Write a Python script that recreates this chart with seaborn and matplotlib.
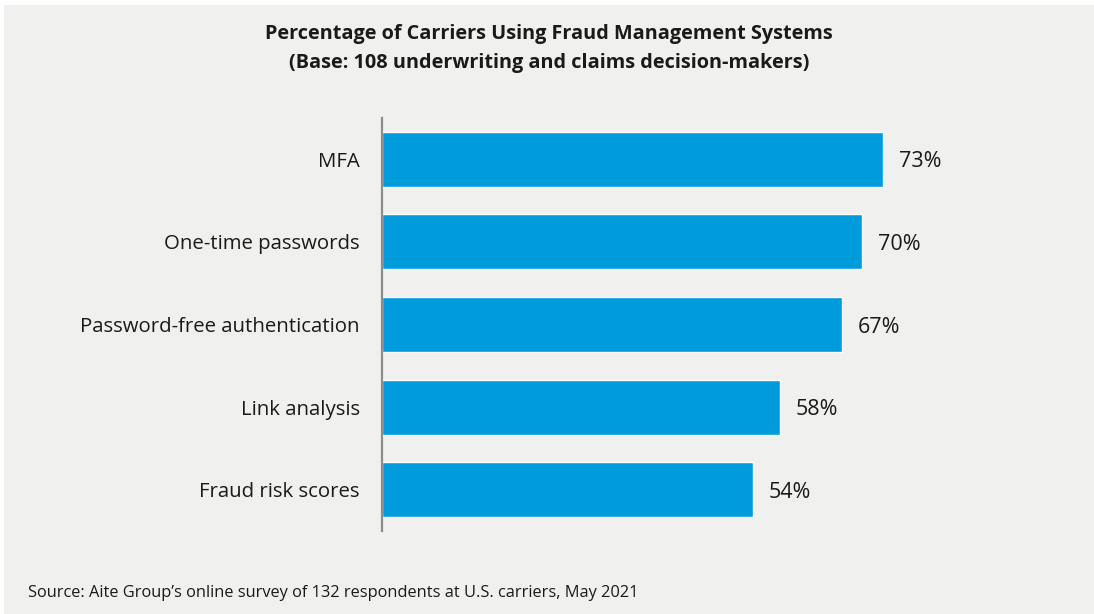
import matplotlib
matplotlib.use("Agg")
import matplotlib.pyplot as plt
import seaborn as sns
import pandas as pd
from matplotlib.patches import Rectangle

# Survey results
systems = ["MFA", "One-time passwords", "Password-free authentication",
           "Link analysis", "Fraud risk scores"]
share_pct = [73, 70, 67, 58, 54]

title_line1 = "Percentage of Carriers Using Fraud Management Systems"
title_line2 = "(Base: 108 underwriting and claims decision-makers)"
source_note = "Source: Aite Group\u2019s online survey of 132 respondents at U.S. carriers, May 2021"

df = pd.DataFrame({"system": systems, "share": share_pct})

sns.set_theme(style="white")
plt.rcParams["font.family"] = ["Open Sans", "DejaVu Sans"]

W, H = 1094, 614
panel_bg = "#f0f0ee"
text_col = "#1a1a1a"
fig = plt.figure(figsize=(W / 100, H / 100), dpi=100, facecolor="white")

# light grey panel behind everything
fig.patches.append(Rectangle((4 / W, 0), 1 - 4 / W, 1 - 5 / H,
                             transform=fig.transFigure, facecolor=panel_bg,
                             edgecolor="none", zorder=-10))

# axes: x=0 at pixel 382, 100% at 382+686; bar band from y=118 to y=531
left, right = 382 / W, (382 + 686.3) / W
bottom, top = 1 - 531 / H, 1 - 118 / H
ax = fig.add_axes([left, bottom, right - left, top - bottom])
ax.set_facecolor("none")
ax.set_zorder(1)

sns.barplot(data=df, x="share", y="system", orient="h", color="#009bdb",
            saturation=1, width=0.667, ax=ax)

ax.set_xlim(0, 100)
ax.set_ylim(4.5, -0.5)
ax.set_xlabel("")
ax.set_ylabel("")
ax.set_xticks([])
ax.tick_params(axis="y", length=0, pad=16, labelsize=14.7, labelcolor=text_col)
for s in ["top", "right", "bottom"]:
    ax.spines[s].set_visible(False)
ax.spines["left"].set_color("#8c8c8c")
ax.spines["left"].set_linewidth(1.6)

for i, v in enumerate(share_pct):
    ax.text(v + 2.3, i, f"{v}%", va="center_baseline", ha="left",
            fontsize=15.5, color=text_col)

fig.text(549 / W, 1 - 34 / H, title_line1, ha="center", va="center",
         fontsize=14.3, fontweight="bold", color=text_col)
fig.text(549 / W, 1 - 63 / H, title_line2, ha="center", va="center",
         fontsize=14.3, fontweight="bold", color=text_col)
fig.text(28 / W, 1 - 593 / H, source_note, ha="left", va="center",
         fontsize=11.8, color=text_col)

fig.savefig("out.png", dpi=100, facecolor="white")
